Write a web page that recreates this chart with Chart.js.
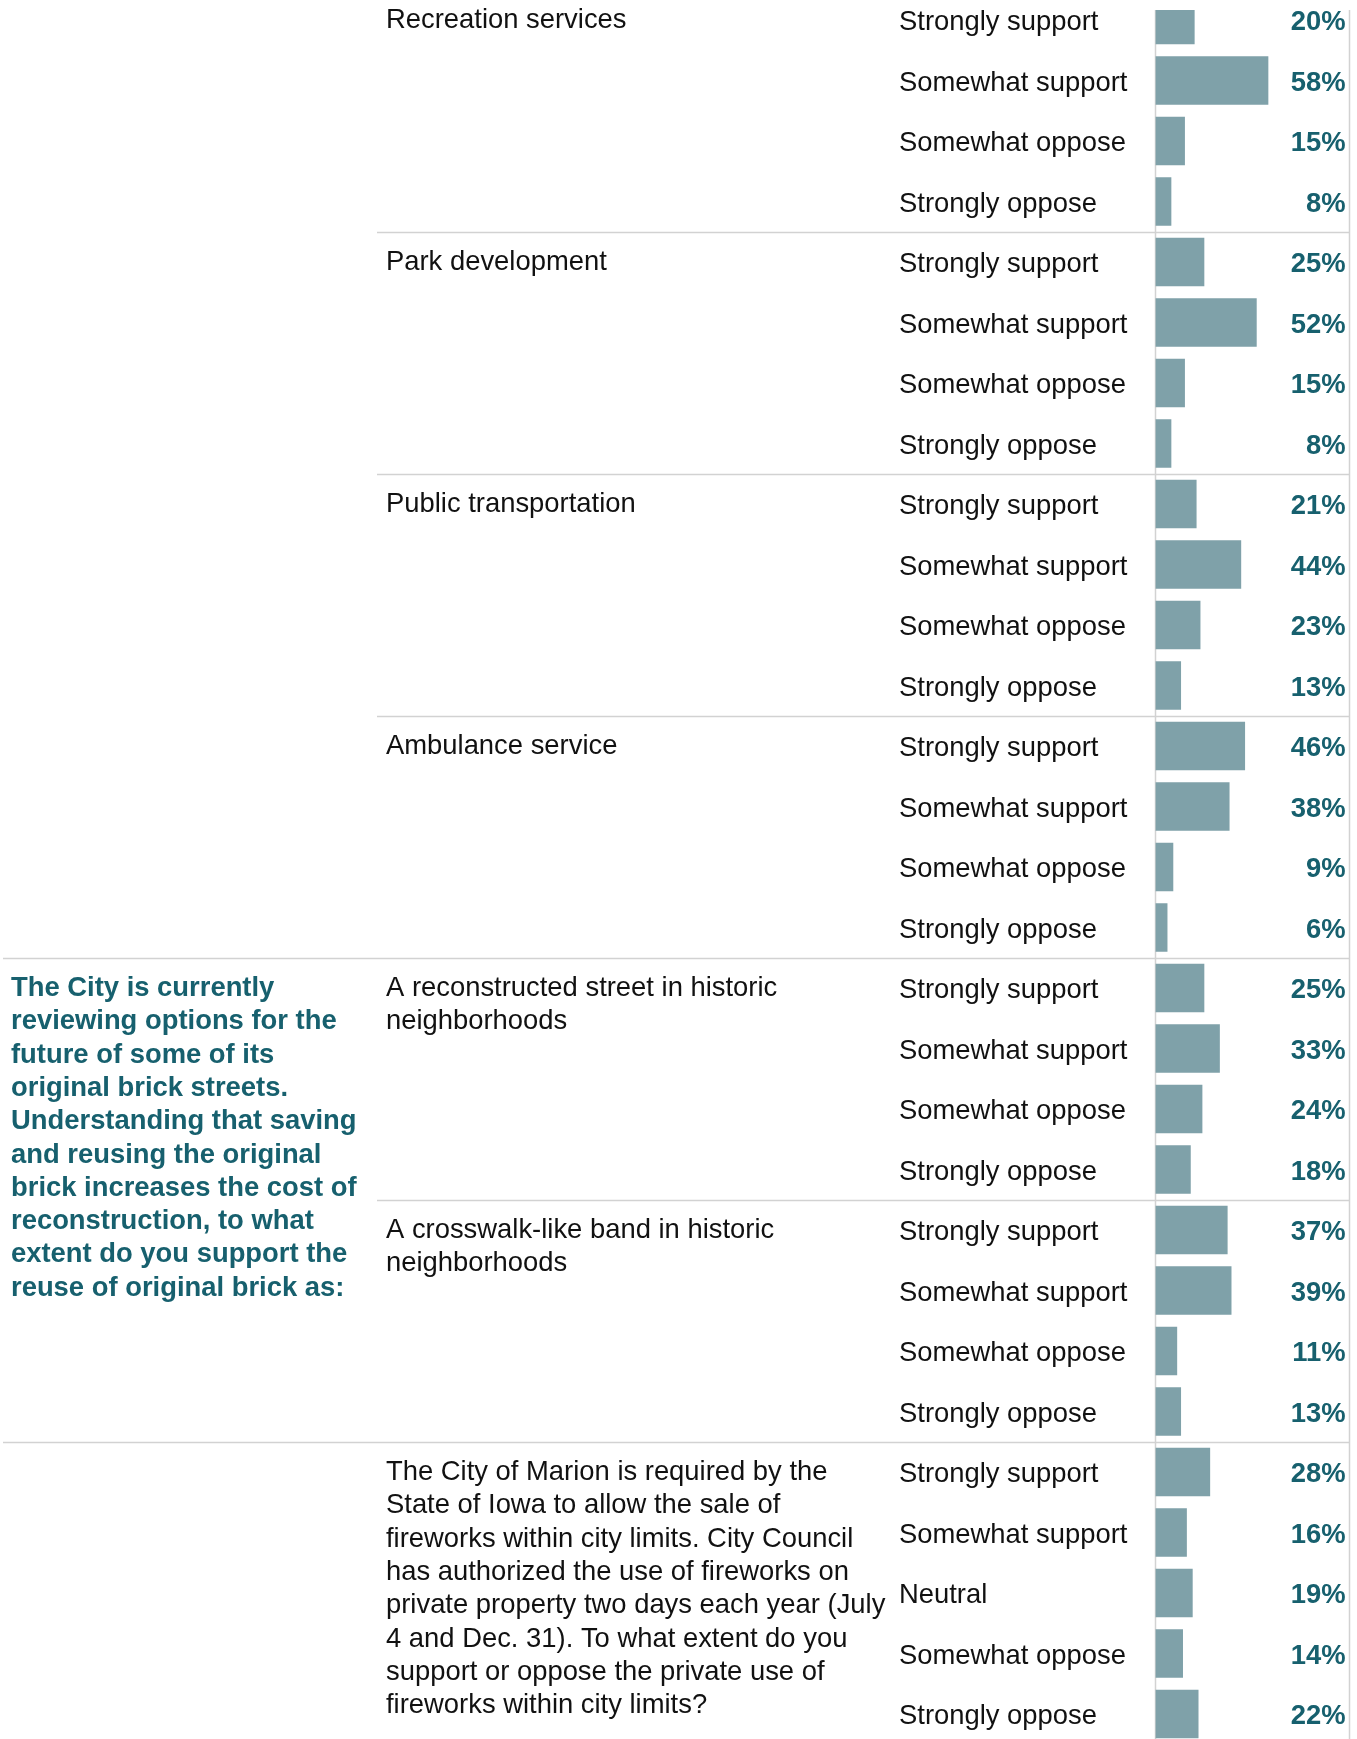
<!DOCTYPE html>
<html lang="en">
<head>
    <meta charset="UTF-8">
    <title>Survey responses</title>
    <script src="https://cdn.jsdelivr.net/npm/chart.js"></script>
    <style>
        html, body {
            margin: 0;
            padding: 0;
            background: #fff;
        }
        canvas {
            display: block;
        }
    </style>
</head>
<body>
    <canvas id="surveyChart" width="1357" height="1739"></canvas>

    <script>
        // question text, already broken into the lines used in the report
        const topics = [
            ['Recreation services'],
            ['Park development'],
            ['Public transportation'],
            ['Ambulance service'],
            ['A reconstructed street in historic', 'neighborhoods'],
            ['A crosswalk-like band in historic', 'neighborhoods'],
            ['The City of Marion is required by the',
             'State of Iowa to allow the sale of',
             'fireworks within city limits. City Council',
             'has authorized the use of fireworks on',
             'private property two days each year (July',
             '4 and Dec. 31). To what extent do you',
             'support or oppose the private use of',
             'fireworks within city limits?']
        ];

        const brickQuestion = [
            'The City is currently',
            'reviewing options for the',
            'future of some of its',
            'original brick streets.',
            'Understanding that saving',
            'and reusing the original',
            'brick increases the cost of',
            'reconstruction, to what',
            'extent do you support the',
            'reuse of original brick as:'
        ];

        const scale4 = ['Strongly support', 'Somewhat support', 'Somewhat oppose', 'Strongly oppose'];
        const scale5 = ['Strongly support', 'Somewhat support', 'Neutral', 'Somewhat oppose', 'Strongly oppose'];

        const recreation = [20, 58, 15, 8];
        const parks = [25, 52, 15, 8];
        const transit = [21, 44, 23, 13];
        const ambulance = [46, 38, 9, 6];
        const brickStreet = [25, 33, 24, 18];
        const brickBand = [37, 39, 11, 13];
        const fireworks = [28, 16, 19, 14, 22];

        const groupValues = [recreation, parks, transit, ambulance, brickStreet, brickBand, fireworks];
        const groupScales = [scale4, scale4, scale4, scale4, scale4, scale4, scale5];

        // flatten into one row per answer
        const rows = [];
        const rowLabels = [];
        const groupStart = [];
        groupValues.forEach((vals, g) => {
            groupStart.push(rows.length);
            vals.forEach((v, i) => {
                rowLabels.push(groupScales[g][i]);
                rows.push({ x: v, y: rows.length });
            });
        });

        const FONT = '"Liberation Sans", Arial, Helvetica, sans-serif';
        const TEAL = '#17606e';
        const LINE = '#d2d2d2';

        const tablePlugin = {
            id: 'tablePlugin',
            beforeDatasetsDraw(chart) {
                const ctx = chart.ctx;
                const area = chart.chartArea;
                const y = chart.scales.y;
                ctx.save();
                ctx.strokeStyle = LINE;
                ctx.lineWidth = 1.5;
                // column borders
                [area.left, area.right].forEach(x => {
                    ctx.beginPath();
                    ctx.moveTo(x, area.top);
                    ctx.lineTo(x, area.bottom);
                    ctx.stroke();
                });
                // row group separators
                groupStart.slice(1).forEach((start, k) => {
                    const py = Math.round(y.getPixelForValue(start - 0.5)) + 0.5;
                    const full = (k + 1 === 4 || k + 1 === 6);
                    ctx.beginPath();
                    ctx.moveTo(full ? 3 : 377, py);
                    ctx.lineTo(area.right, py);
                    ctx.stroke();
                });
                ctx.restore();
            },
            afterDatasetsDraw(chart) {
                const ctx = chart.ctx;
                const area = chart.chartArea;
                const y = chart.scales.y;
                ctx.save();
                ctx.textBaseline = 'alphabetic';

                // answer labels and percentages
                rows.forEach((r, j) => {
                    const py = y.getPixelForValue(r.y);
                    ctx.font = '27.4px ' + FONT;
                    ctx.fillStyle = '#111';
                    ctx.textAlign = 'left';
                    ctx.fillText(rowLabels[j], 899, py + 10);
                    ctx.font = 'bold 27.4px ' + FONT;
                    ctx.fillStyle = TEAL;
                    ctx.textAlign = 'right';
                    ctx.fillText(r.x + '%', area.right - 4, py + 10);
                });

                // topic text
                ctx.font = '27.4px ' + FONT;
                ctx.fillStyle = '#111';
                ctx.textAlign = 'left';
                topics.forEach((lines, g) => {
                    const py = y.getPixelForValue(groupStart[g]);
                    lines.forEach((t, k) => ctx.fillText(t, 386, py + 8 + k * 33.3));
                });

                // brick question in the left column
                ctx.font = 'bold 27.4px ' + FONT;
                ctx.fillStyle = TEAL;
                const by = y.getPixelForValue(groupStart[4]);
                brickQuestion.forEach((t, k) => ctx.fillText(t, 11, by + 8 + k * 33.3));
                ctx.restore();
            }
        };

        new Chart(document.getElementById('surveyChart').getContext('2d'), {
            type: 'bar',
            data: {
                datasets: [{
                    data: rows,
                    backgroundColor: '#7fa1a9',
                    barThickness: 48,
                    clip: 0
                }]
            },
            options: {
                indexAxis: 'y',
                responsive: false,
                animation: false,
                devicePixelRatio: 1,
                layout: {
                    padding: { left: 1155.5, right: 7.5, top: 10, bottom: 0 }
                },
                scales: {
                    x: { type: 'linear', min: 0, max: 100, bounds: 'data', offset: false, display: false },
                    y: { type: 'linear', min: -0.1653, max: 28.413, bounds: 'data', offset: false, reverse: true, display: false }
                },
                plugins: {
                    legend: { display: false },
                    tooltip: { enabled: false }
                }
            },
            plugins: [tablePlugin]
        });
    </script>
</body>
</html>
